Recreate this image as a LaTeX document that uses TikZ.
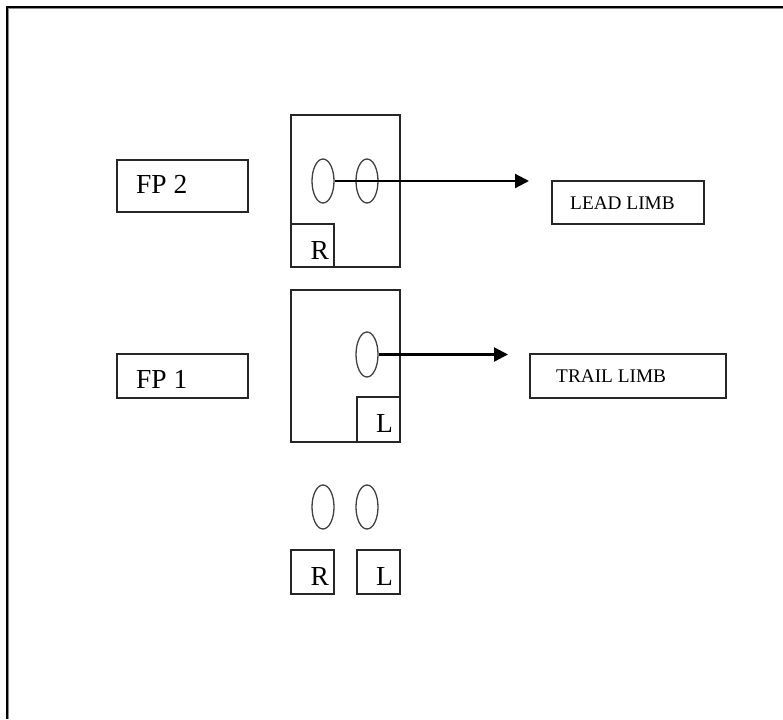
\documentclass[tikz,border=0pt]{standalone}
\usepackage{fontspec}
\setmainfont{Liberation Serif}
\usetikzlibrary{shapes.geometric,arrows.meta}
\begin{document}
\begin{tikzpicture}[x=1pt,y=-1pt,
  box/.style={draw=black!85,line width=1.4pt,inner sep=0pt},
  foot/.style={draw=black!75,line width=1.3pt,ellipse,inner sep=0pt,minimum width=22pt,minimum height=44pt},
  lbl/.style={anchor=base west,inner sep=0pt,font=\fontsize{27.5}{31}\selectfont},
  small/.style={anchor=base west,inner sep=0pt,font=\fontsize{19.3}{22}\selectfont},
  arr/.style={line width=2.2pt,-{Triangle[length=14pt,width=14pt]}}]
\useasboundingbox (0,0) rectangle (783,719);
% frame
\coordinate (fbl) at (7,719);
\coordinate (ftl) at (7,7);
\coordinate (ftr) at (783,7);
\draw[line width=1.4pt,black] (fbl) -- (ftl) -- (ftr);
\draw[line width=0.9pt,black!45] ([xshift=1.4pt,yshift=0pt]fbl) -- ([xshift=1.4pt,yshift=-1.4pt]ftl) -- ([yshift=-1.4pt]ftr);
% left labels
\node[box,minimum width=131pt,minimum height=52pt] (fp2) at (182.5,186) {};
\node[lbl] (fp2t) at (136,194) {FP 2};
\node[box,minimum width=131pt,minimum height=44pt] (fp1) at (182.5,376) {};
\node[lbl] (fp1t) at (136,388) {FP 1};
% plates
\node[box,minimum width=109pt,minimum height=152pt] (plate2) at (345.5,191) {};
\node[box,minimum width=43pt,minimum height=43pt] (r2) at (312.5,245.5) {};
\node[lbl] (r2t) at (310.5,259) {R};
\node[box,minimum width=109pt,minimum height=152pt] (plate1) at (345.5,366) {};
\node[box,minimum width=43pt,minimum height=45pt] (l1) at (378.5,419.5) {};
\node[lbl] (l1t) at (376,432) {L};
% feet
\node[foot] (e2l) at (323,181) {};
\node[foot] (e2r) at (367,181) {};
\node[foot,minimum height=45pt] (e1) at (367,354.5) {};
\node[foot] (el) at (323,507) {};
\node[foot] (er) at (367,507) {};
% bottom boxes
\node[box,minimum width=43pt,minimum height=44pt] (rb) at (312.5,572) {};
\node[lbl] (rbt) at (310.5,585) {R};
\node[box,minimum width=43pt,minimum height=44pt] (lb) at (378.5,572) {};
\node[lbl] (lbt) at (376,585) {L};
% right labels
\node[box,minimum width=152pt,minimum height=43pt] (lead) at (628,202.5) {};
\node[small] (leadt) at (570,209) {LEAD LIMB};
\node[box,minimum width=196pt,minimum height=44pt] (trail) at (628,376) {};
\node[small] (trailt) at (556,382) {TRAIL LIMB};
% arrows
\coordinate (tip2) at (529,181);
\coordinate (tip1) at (508,354.5);
\draw[arr] (e2l.east) -- (tip2);
\draw[arr] (e1.east) -- (tip1);
\end{tikzpicture}
\end{document}
